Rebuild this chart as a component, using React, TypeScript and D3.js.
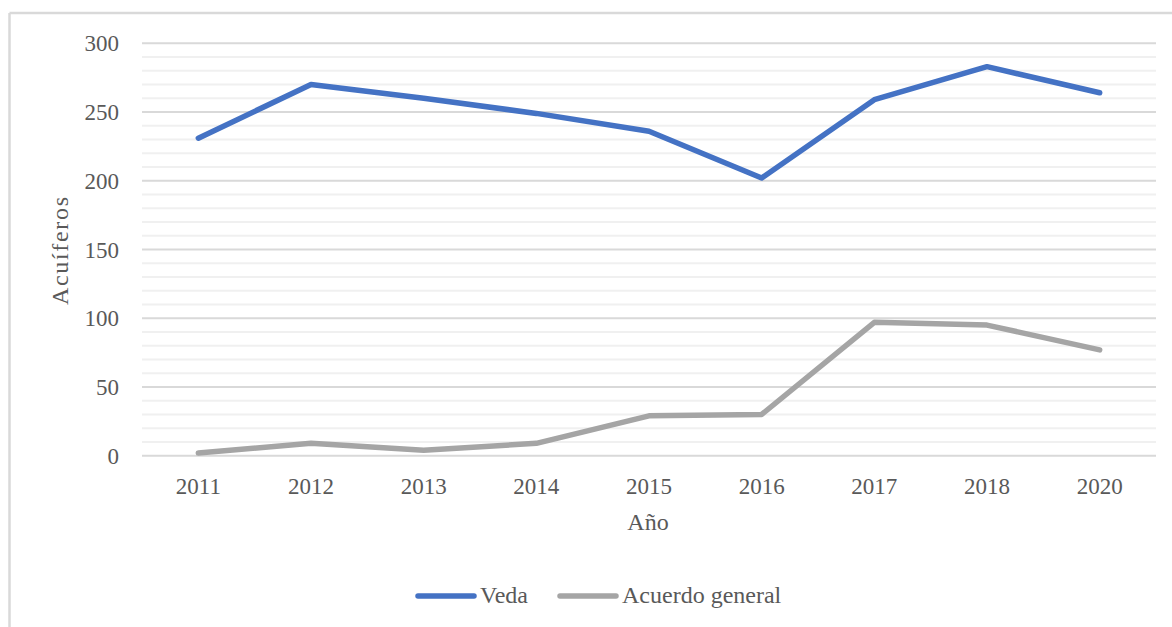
import React from "react";
import * as d3 from "d3";

const years = ["2011", "2012", "2013", "2014", "2015", "2016", "2017", "2018", "2020"];
const veda = [231, 270, 260, 249, 236, 202, 259, 283, 264];
const acuerdoGeneral = [2, 9, 4, 9, 29, 30, 97, 95, 77];
const yTicks = [0, 50, 100, 150, 200, 250, 300];
const minorTicks = d3.range(0, 301, 10);

const W = 1172;
const H = 627;
const FONT = "'Liberation Serif', 'Times New Roman', serif";
const BLUE = "#4472C4";
const GRAY = "#A5A5A5";
const TEXT = "#595959";

export default function App() {
  const x = d3.scalePoint<string>().domain(years).range([142, 1156]).padding(0.5);
  const y = d3.scaleLinear().domain([0, 300]).range([455.7, 43.3]);

  const line = d3
    .line<number>()
    .x((_, i) => x(years[i]) as number)
    .y((d) => y(d));

  const series = [
    { name: "Veda", values: veda, color: BLUE },
    { name: "Acuerdo general", values: acuerdoGeneral, color: GRAY },
  ];

  return (
    <svg
      width={W}
      height={H}
      style={{ position: "fixed", left: 0, top: 0, background: "#fff" }}
      fontFamily={FONT}
    >
      <rect x={0} y={0} width={W} height={H} fill="#fff" />
      {/* outer frame */}
      <line x1={9.5} y1={13} x2={9.5} y2={H} stroke="#d9d9d9" strokeWidth={2.5} />
      <line x1={9.5} y1={13} x2={W} y2={13} stroke="#d9d9d9" strokeWidth={2.5} />

      {/* minor gridlines */}
      {minorTicks
        .filter((t) => t % 50 !== 0)
        .map((t) => (
          <line key={"m" + t} x1={142} x2={1156} y1={y(t)} y2={y(t)} stroke="#f0f0f0" strokeWidth={2} />
        ))}
      {/* major gridlines */}
      {yTicks.map((t) => (
        <line key={"g" + t} x1={142} x2={1156} y1={y(t)} y2={y(t)} stroke="#d9d9d9" strokeWidth={2} />
      ))}

      {/* y tick labels */}
      {yTicks.map((t) => (
        <text key={"yt" + t} x={119} y={y(t) + 8} textAnchor="end" fontSize={23} fill={TEXT}>
          {t}
        </text>
      ))}

      {/* x tick labels */}
      {years.map((yr) => (
        <text key={"xt" + yr} x={x(yr)} y={494} textAnchor="middle" fontSize={23} fill={TEXT}>
          {yr}
        </text>
      ))}

      {/* axis titles */}
      <text x={648} y={530} textAnchor="middle" fontSize={24} fill={TEXT}>
        Año
      </text>
      <text
        transform="translate(68,251) rotate(-90)"
        textAnchor="middle"
        fontSize={24}
        fill={TEXT}
        textLength={108}
        lengthAdjust="spacing"
      >
        Acuíferos
      </text>

      {/* series */}
      {series.map((s) => (
        <path
          key={s.name}
          d={line(s.values) as string}
          fill="none"
          stroke={s.color}
          strokeWidth={5.5}
          strokeLinecap="round"
          strokeLinejoin="round"
        />
      ))}

      {/* legend */}
      <line x1={418} x2={474} y1={596} y2={596} stroke={BLUE} strokeWidth={5.5} strokeLinecap="round" />
      <text x={480} y={603} fontSize={24} fill={TEXT}>
        Veda
      </text>
      <line x1={560} x2={616} y1={596} y2={596} stroke={GRAY} strokeWidth={5.5} strokeLinecap="round" />
      <text x={622} y={603} fontSize={24} fill={TEXT}>
        Acuerdo general
      </text>
    </svg>
  );
}
